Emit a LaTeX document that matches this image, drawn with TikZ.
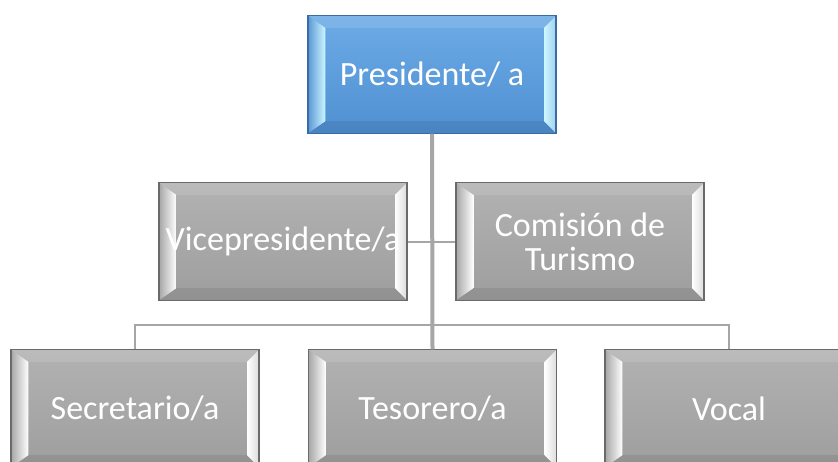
\documentclass[tikz,border=0pt]{standalone}
\usepackage{fontspec}
\setmainfont{Carlito}

\definecolor{gtop}{HTML}{B2B2B2}
\definecolor{gbot}{HTML}{9E9E9E}
\definecolor{gside}{HTML}{A6A6A6}
\definecolor{gedge}{HTML}{6A6A6A}
\definecolor{btop}{HTML}{6CABE6}
\definecolor{bbot}{HTML}{5090D2}
\definecolor{bside}{HTML}{5A98D6}
\definecolor{bhi}{HTML}{CDF6FF}
\definecolor{bedge}{HTML}{3A6BA2}
\definecolor{linegray}{HTML}{A6A6A6}

\tikzset{
  bevel/.style 2 args={path picture={
    \coordinate (nw) at (path picture bounding box.north west);
    \coordinate (ne) at (path picture bounding box.north east);
    \coordinate (se) at (path picture bounding box.south east);
    \coordinate (sw) at (path picture bounding box.south west);
    \coordinate (inw) at ([shift={(13pt,-9pt)}]nw);
    \coordinate (ine) at ([shift={(-9pt,-9pt)}]ne);
    \coordinate (ise) at ([shift={(-9pt,9pt)}]se);
    \coordinate (isw) at ([shift={(13pt,9pt)}]sw);
    \fill[white, opacity=.12] (nw) -- (ne) -- (ine) -- (inw) -- cycle;
    \fill[black, opacity=.08] (sw) -- (se) -- (ise) -- (isw) -- cycle;
    \shade[left color=#2, middle color=#2, right color=#1] (nw) -- (inw) -- (isw) -- (sw) -- cycle;
    \shade[left color=#1, right color=#2!40!#1] (ne) -- (ine) -- (ise) -- (se) -- cycle;
  }},
  box/.style={rectangle, minimum width=186pt, minimum height=88pt, inner sep=0pt,
    align=center, text=white, font=\fontsize{25.5}{25.5}\selectfont,
    top color=gtop, bottom color=gbot, draw=gedge, line width=0.8pt,
    bevel={white}{gside}},
  bluebox/.style={box, top color=btop, bottom color=bbot, draw=bedge,
    bevel={bhi}{bside}},
  trunk/.style={draw=linegray, line width=3pt},
  branch/.style={draw=linegray, line width=1.5pt}
}

\begin{document}
\begin{tikzpicture}[x=0.75pt,y=-0.75pt]
\useasboundingbox (0,0) rectangle (838,461);
\clip (0,0) rectangle (838,461);

\coordinate (bus) at (432,325);

\node[bluebox] (pres) at (432,74.5) {Presidente/ a};
\node[box] (vice) at (283,241.5) {Vicepresidente/a};
\node[box] (com) at (580,241.5) {Comisión de\\Turismo};
\node[box] (sec) at (135,408.5) {Secretario/a};
\node[box] (tes) at (432.5,408.5) {Tesorero/a};
\node[box] (voc) at (729,408.5) {Vocal};

\draw[trunk] (pres.south) -- (tes.north);
\draw[branch] (vice.east) -- (vice.east -| pres.south);
\draw[branch] (com.west) -- (com.west -| pres.south);
\draw[branch] (sec.north) |- (bus) -| (voc.north);

\end{tikzpicture}
\end{document}
